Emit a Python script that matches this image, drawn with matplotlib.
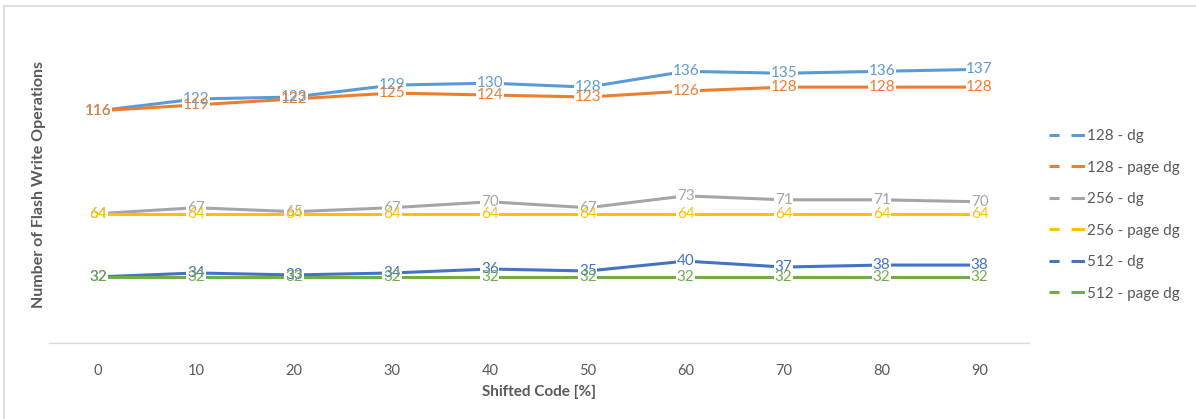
import matplotlib
matplotlib.use("Agg")
import matplotlib.pyplot as plt
from matplotlib.lines import Line2D

plt.rcParams['font.family'] = ['Lato', 'DejaVu Sans']

shift_pct = [0, 10, 20, 30, 40, 50, 60, 70, 80, 90]
dg_128 = [116, 122, 123, 129, 130, 128, 136, 135, 136, 137]
page_dg_128 = [116, 119, 122, 125, 124, 123, 126, 128, 128, 128]
dg_256 = [64, 67, 65, 67, 70, 67, 73, 71, 71, 70]
page_dg_256 = [64, 64, 64, 64, 64, 64, 64, 64, 64, 64]
dg_512 = [32, 34, 33, 34, 36, 35, 40, 37, 38, 38]
page_dg_512 = [32, 32, 32, 32, 32, 32, 32, 32, 32, 32]

series = [
    ("128 - dg", dg_128, "#5B9BD5"),
    ("128 - page dg", page_dg_128, "#ED7D31"),
    ("256 - dg", dg_256, "#A5A5A5"),
    ("256 - page dg", page_dg_256, "#FFC000"),
    ("512 - dg", dg_512, "#4472C4"),
    ("512 - page dg", page_dg_512, "#70AD47"),
]

fig = plt.figure(figsize=(11.96, 4.19), dpi=100)
ax = fig.add_axes([0.041, 0.181, 0.819, 0.755])

x = list(range(len(shift_pct)))
for name, vals, color in series:
    ax.plot(x, vals, color=color, lw=2.2, zorder=2, solid_capstyle='butt')

# white patches behind the value labels interrupt the lines
for name, vals, color in series:
    for xi, v in zip(x, vals):
        ax.text(xi, v, str(v), ha='center', va='center', fontsize=11,
                color=(1, 1, 1, 0), zorder=3,
                bbox=dict(boxstyle='square,pad=0.05', fc='white', ec='none'))
for name, vals, color in series:
    for xi, v in zip(x, vals):
        ax.text(xi, v, str(v), ha='center', va='center', fontsize=11,
                color=color, zorder=4)

ax.set_xlim(-0.5, len(x) - 0.5)
ax.set_ylim(-1.5, 158.5)
ax.set_xticks(x)
ax.set_xticklabels([str(s) for s in shift_pct], color='#595959', fontsize=10.5)
ax.set_yticks([])
ax.tick_params(axis='x', length=0, pad=15)
for side in ['top', 'right', 'left']:
    ax.spines[side].set_visible(False)
ax.spines['bottom'].set_color('#D9D9D9')
ax.spines['bottom'].set_linewidth(1.0)

ax.set_xlabel("Shifted Code [%]", fontsize=11, fontweight='bold',
              color='#595959', labelpad=5)
ax.set_ylabel("Number of Flash Write Operations", fontsize=11.5,
              fontweight='bold', color='#595959', labelpad=2)

# legend keys: short dash, gap, longer dash (dash lengths are in units of lw)
handles = [Line2D([0], [0], color=c, lw=2.2, dashes=(3.3, 3.9, 4.4, 9))
           for _, _, c in series]
leg = fig.legend(handles, [s[0] for s in series], loc='upper left',
                 bbox_to_anchor=(0.866, 0.725), frameon=False,
                 fontsize=11, labelcolor='#595959', handlelength=2.3,
                 handletextpad=0.15, labelspacing=1.15)

# chart frame edges
fig.add_artist(Line2D([0.0035, 1.0], [0.986, 0.986], color='#D9D9D9',
                      lw=1.2, transform=fig.transFigure))
fig.add_artist(Line2D([0.0035, 0.0035], [0.0, 0.986], color='#D9D9D9',
                      lw=1.2, transform=fig.transFigure))

fig.savefig("out.png", dpi=100)
